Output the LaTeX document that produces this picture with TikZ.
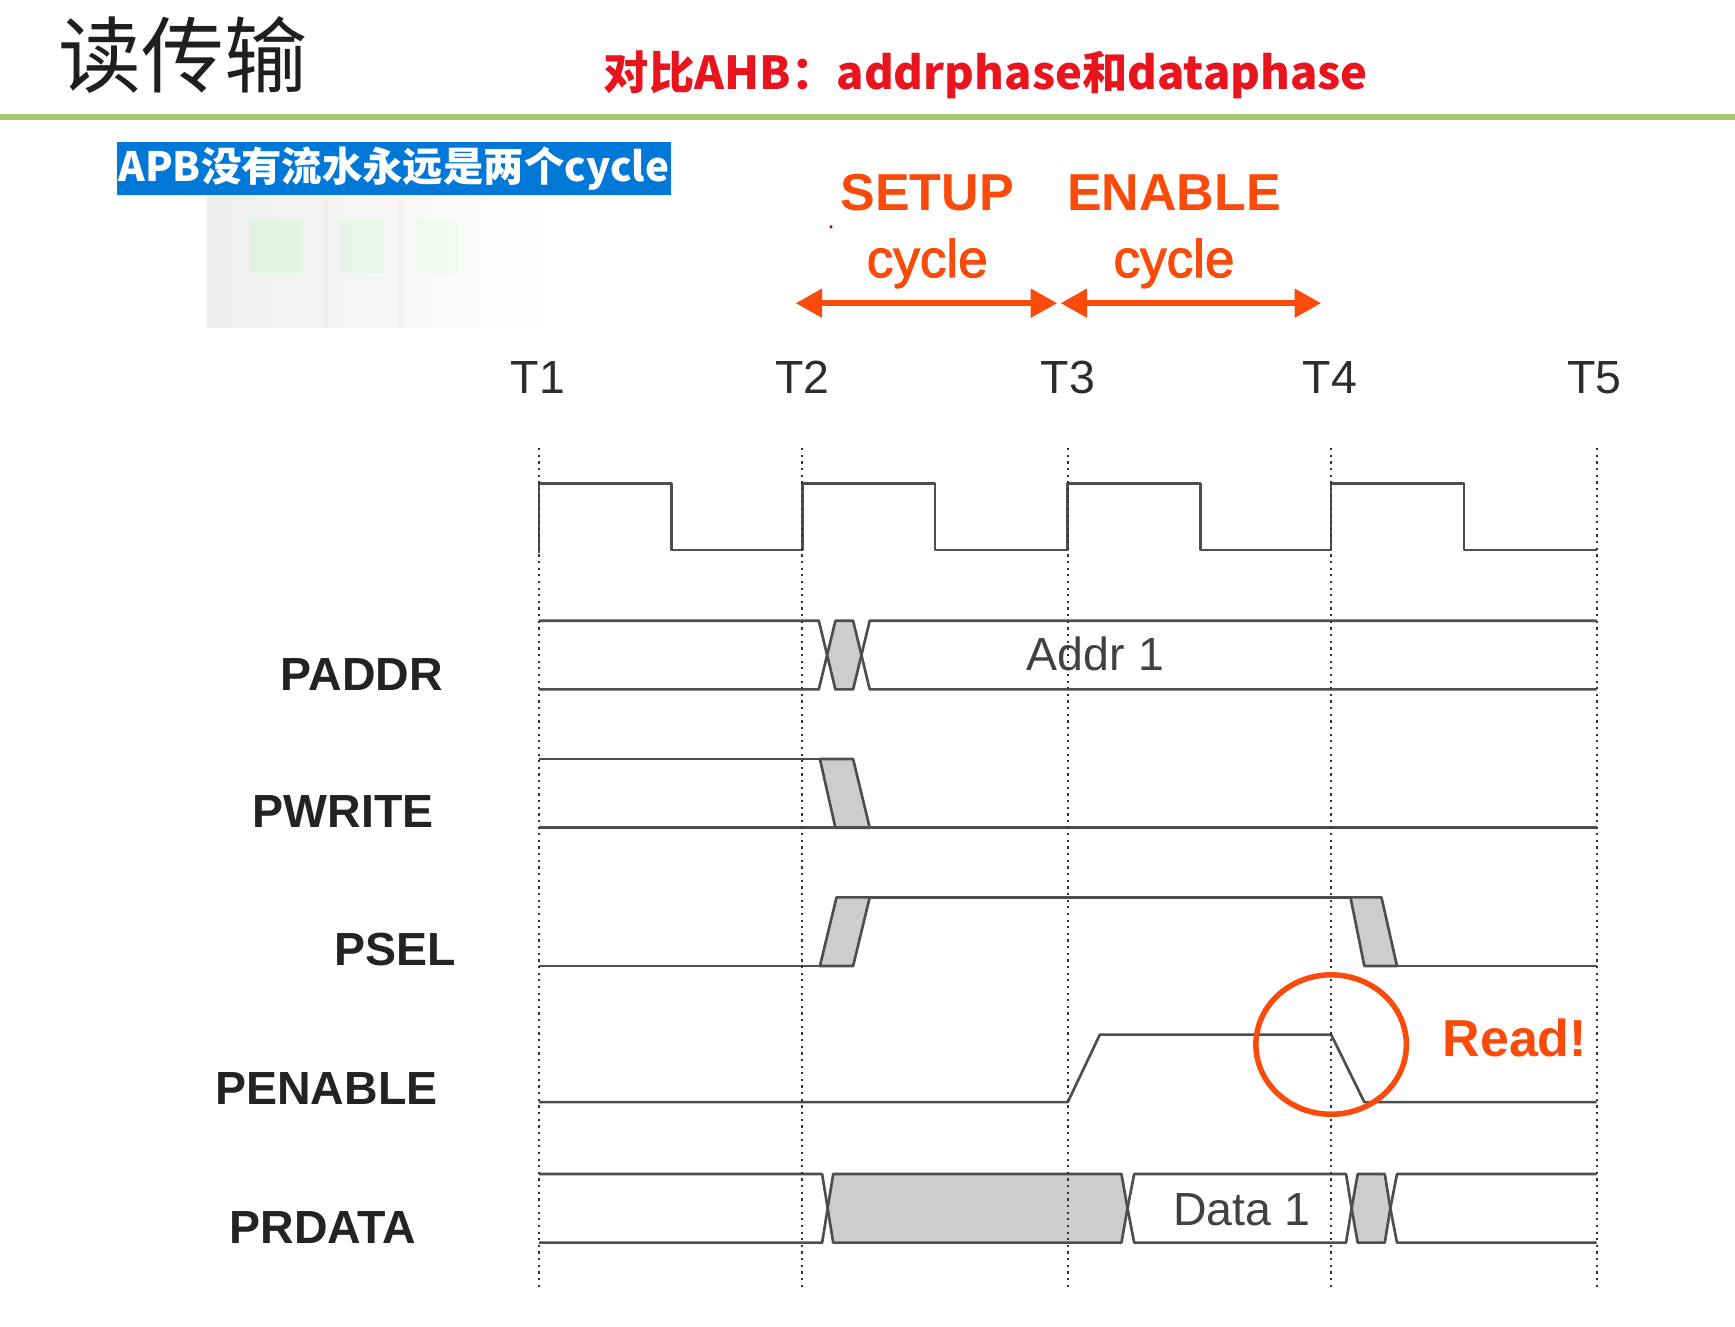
\documentclass[tikz,border=0pt]{standalone}
\usepackage{fontspec}
\setmainfont{Liberation Sans}
\newfontfamily\cjk{Noto Sans CJK SC}
\newfontfamily\cycfont{Liberation Sans}[FakeBold=2]
\usetikzlibrary{arrows.meta,shapes.geometric}
\definecolor{orng}{RGB}{250,75,10}
\definecolor{ttlred}{RGB}{232,20,30}
\definecolor{boxblue}{RGB}{0,120,215}
\definecolor{rulegreen}{RGB}{165,198,115}
\definecolor{sigc}{RGB}{78,78,78}
\definecolor{gridc}{RGB}{50,50,50}
\definecolor{busfill}{RGB}{205,205,205}
\definecolor{lblc}{RGB}{35,35,35}
\definecolor{tc}{RGB}{45,45,45}
\definecolor{valc}{RGB}{65,65,65}
\begin{document}
\begin{tikzpicture}[x=1pt,y=-1pt,
  sig/.style={draw=sigc, line width=2.4pt, line join=round},
  bus/.style={draw=sigc, line width=2.4pt, fill=busfill, line join=round},
  gridline/.style={draw=gridc, line width=2pt, dash pattern=on 2pt off 4pt},
  lbl/.style={font=\fontsize{42}{48}\selectfont\bfseries, text=lblc, inner sep=0pt},
  tlbl/.style={font=\fontsize{42}{48}\selectfont, text=tc, inner sep=0pt},
  val/.style={font=\fontsize{42}{48}\selectfont, text=valc, inner sep=0pt},
  phasetxt/.style={font=\fontsize{47}{52}\selectfont\bfseries, text=orng, inner sep=0pt},
  cyctxt/.style={font=\cycfont\fontsize{48}{52}\selectfont, text=orng, inner sep=0pt},
  phasearrow/.style={draw=orng, line width=5.5pt, {Triangle[length=24pt,width=25pt]}-{Triangle[length=24pt,width=25pt]}}
]
\useasboundingbox (0,0) rectangle (1568,1199);
\fill[white] (0,0) rectangle (1568,1199);

% header
\node[anchor=west, inner sep=0pt, font=\cjk\fontsize{75}{80}\selectfont, text=black!88] (title) at (53,50) {读传输};
\node[inner sep=0pt, font=\cjk\bfseries\fontsize{41}{44}\selectfont, text=ttlred] (cmp) at (891,68) {对比AHB：addrphase和dataphase};
\fill[rulegreen] (0,103) rectangle (1568,108);

% faded background picture
\shade[left color=gray!13, right color=white, middle color=gray!7] (187,176) rectangle (500,296);
\fill[green!60!white, opacity=0.10] (226,199) rectangle (274,247);
\fill[green!60!white, opacity=0.08] (306,199) rectangle (347,247);
\fill[green!60!white, opacity=0.05] (375,199) rectangle (415,247);
\fill[red!40!white, opacity=0.07] (292,176) rectangle (296,296);
\fill[red!40!white, opacity=0.05] (360,176) rectangle (364,296);

% blue note
\node[fill=boxblue, text=white, inner sep=0pt, minimum width=500pt, minimum height=48pt,
      font=\cjk\bfseries\fontsize{36.5}{40}\selectfont] (note) at (356,152) {APB没有流水永远是两个cycle};

% phase labels
\fill[red!75!black] (751,205) circle (1.6);
\node[phasetxt] (setup) at (838,174) {SETUP};
\node[phasetxt] (enable) at (1061,174) {ENABLE};
\node[cyctxt] (cyc1) at (838,238) {cycle};
\node[cyctxt] (cyc2) at (1061,238) {cycle};
\coordinate (sa) at (719,274);
\coordinate (sb) at (955.5,274);
\coordinate (ea) at (958.5,274);
\coordinate (eb) at (1194,274);
\draw[phasearrow] (sa) -- (sb);
\draw[phasearrow] (ea) -- (eb);

% time labels
\node[tlbl] (t1) at (486,341) {T1};
\node[tlbl] (t2) at (725,341) {T2};
\node[tlbl] (t3) at (965,341) {T3};
\node[tlbl] (t4) at (1202,341) {T4};
\node[tlbl] (t5) at (1441,341) {T5};

% signal names
\node[lbl] (paddr) at (327,610) {PADDR};
\node[lbl] (pwrite) at (310,733) {PWRITE};
\node[lbl] (psel) at (357,858) {PSEL};
\node[lbl] (penable) at (295,984) {PENABLE};
\node[lbl] (prdata) at (292,1109) {PRDATA};

% clock
\draw[sig] (487,500) -- (487,437) -- (607,437) -- (607,497) -- (725,497) -- (725,437) -- (845,437) -- (845,497)
  -- (965,497) -- (965,437) -- (1085,437) -- (1085,497) -- (1203,497) -- (1203,437) -- (1323,437) -- (1323,497) -- (1443,497);

% PADDR
\draw[sig] (487,561) -- (740,561) -- (747.5,592);
\draw[sig] (487,623) -- (740,623) -- (747.5,592);
\draw[bus] (747.5,592) -- (755,561) -- (771,561) -- (778.5,592) -- (771,623) -- (755,623) -- cycle;
\draw[sig] (778.5,592) -- (786,561) -- (1443,561);
\draw[sig] (778.5,592) -- (786,623) -- (1443,623);
\node[val] (addr) at (990,591) {Addr 1};

% PWRITE
\draw[sig] (487,686) -- (741,686);
\draw[bus] (741,686) -- (771,686) -- (786,748) -- (755,748) -- cycle;
\draw[sig] (487,748) -- (1443,748);

% PSEL
\draw[sig] (487,873) -- (741,873);
\draw[bus] (741,873) -- (771,873) -- (786,811) -- (756,811) -- cycle;
\draw[sig] (786,811) -- (1220.5,811);
\draw[bus] (1220.5,811) -- (1248.5,811) -- (1262.5,873) -- (1233,873) -- cycle;
\draw[sig] (1262.5,873) -- (1443,873);

% PENABLE
\draw[sig] (487,996) -- (965,996) -- (994,935) -- (1203,935) -- (1233,996) -- (1443,996);

% PRDATA
\draw[sig] (487,1061) -- (743,1061) -- (748,1092);
\draw[sig] (487,1123) -- (743,1123) -- (748,1092);
\draw[bus] (748,1092) -- (753,1061) -- (1013.5,1061) -- (1019,1092) -- (1013.5,1123) -- (753,1123) -- cycle;
\draw[sig] (1019,1092) -- (1025,1061) -- (1216.5,1061) -- (1221.5,1092) -- (1216.5,1123) -- (1025,1123) -- cycle;
\draw[bus] (1221.5,1092) -- (1227,1061) -- (1251.5,1061) -- (1256.5,1092) -- (1251.5,1123) -- (1227,1123) -- cycle;
\draw[sig] (1256.5,1092) -- (1262.5,1061) -- (1443,1061);
\draw[sig] (1256.5,1092) -- (1262.5,1123) -- (1443,1123);
\node[val] (data) at (1122,1093) {Data 1};

% dotted time grid
\foreach \gx/\gn in {487/1,725/2,965/3,1203/4,1443/5}{
  \coordinate (g\gn a) at (\gx,405);
  \coordinate (g\gn b) at (\gx,1166);
  \draw[gridline] (g\gn a) -- (g\gn b);
}

% read marker
\node[draw=orng, line width=5pt, ellipse, minimum width=136pt, minimum height=126pt, inner sep=0pt] (ring) at (1203,944) {};
\node[font=\fontsize{47}{52}\selectfont\bfseries, text=orng, inner sep=0pt] (read) at (1369,938) {Read!};
\end{tikzpicture}
\end{document}
